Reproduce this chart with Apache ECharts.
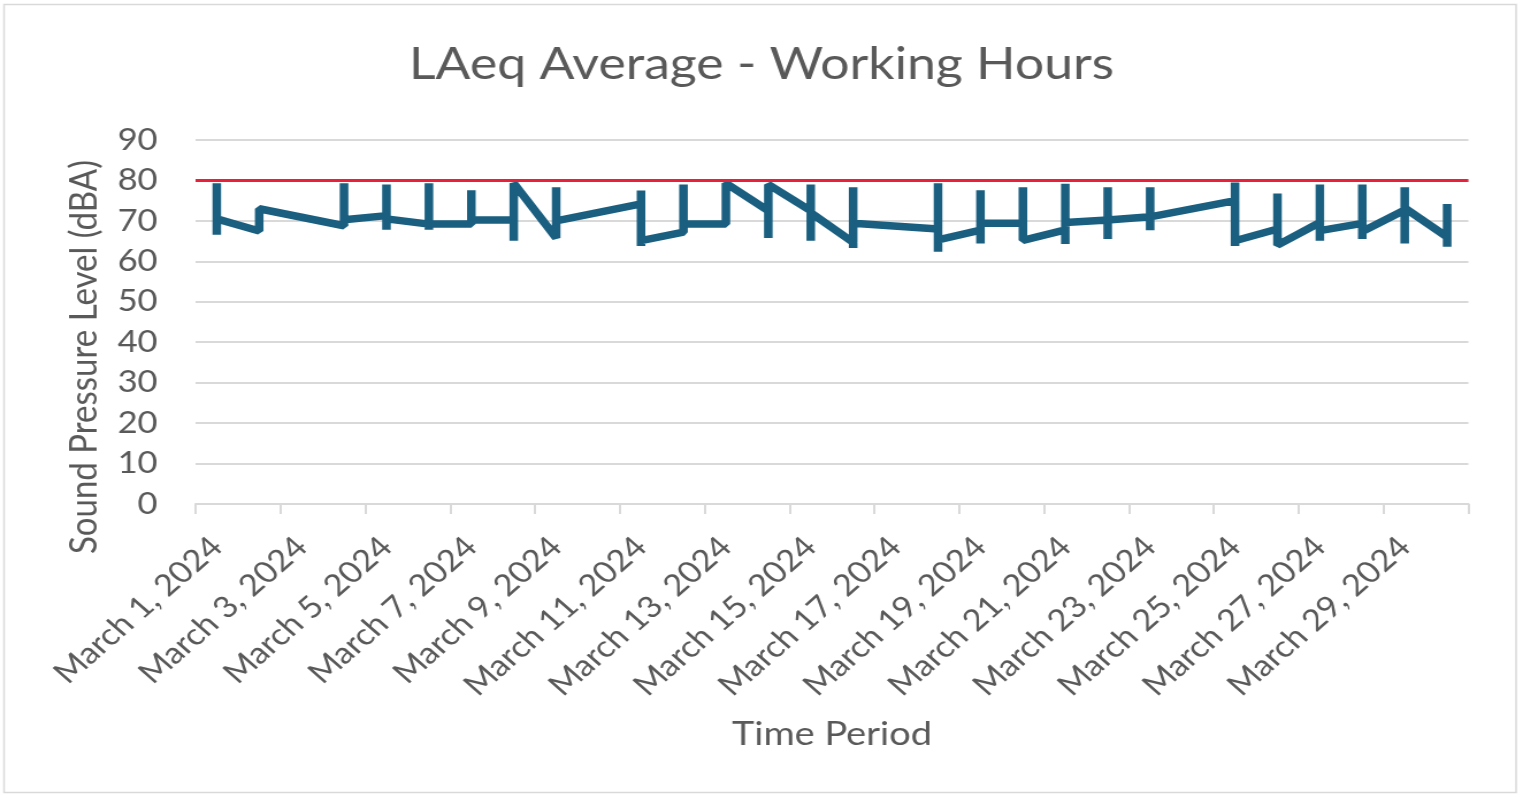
<!DOCTYPE html>
<html>
<head>
<meta charset="utf-8">
<script src="https://cdn.jsdelivr.net/npm/echarts@6/dist/echarts.min.js"></script>
<style>
  html, body { margin: 0; padding: 0; background: #ffffff; overflow: hidden; }
  #wrap { width: 1523px; height: 798px; overflow: hidden; }
  #chart { width: 1324px; height: 798px; transform: scaleX(1.1503); transform-origin: 0 0; }
</style>
</head>
<body>
<div id="wrap"><div id="chart"></div></div>
<script>
// ---- data ----
const dates = [
  'March 1, 2024', 'March 2, 2024', 'March 3, 2024', 'March 4, 2024', 'March 5, 2024',
  'March 6, 2024', 'March 7, 2024', 'March 8, 2024', 'March 9, 2024', 'March 10, 2024',
  'March 11, 2024', 'March 12, 2024', 'March 13, 2024', 'March 14, 2024', 'March 15, 2024',
  'March 16, 2024', 'March 17, 2024', 'March 18, 2024', 'March 19, 2024', 'March 20, 2024',
  'March 21, 2024', 'March 22, 2024', 'March 23, 2024', 'March 24, 2024', 'March 25, 2024',
  'March 26, 2024', 'March 27, 2024', 'March 28, 2024', 'March 29, 2024', 'March 30, 2024'
];
// LAeq readings per day, in recorded order (empty = no reading that day)
const readings = [
  [79.3, 66.6, 70.5],
  [67.5, 73.0],
  [],
  [68.8, 79.3, 70.3],
  [71.3, 79.0, 67.8, 70.5],
  [69.2, 79.3, 67.8, 69.2],
  [69.2, 77.6, 70.2],
  [70.2, 65.1, 79.3],
  [65.8, 78.3, 70.0],
  [],
  [74.2, 77.5, 63.8, 65.1],
  [67.2, 79.0, 69.2],
  [69.2, 79.3],
  [72.5, 65.8, 79.0],
  [72.5, 79.0, 65.1, 72.0],
  [64.7, 78.3, 63.3, 69.4],
  [],
  [68.0, 79.3, 62.4, 65.3],
  [67.7, 64.4, 77.6, 69.4],
  [69.4, 78.3, 65.2],
  [67.8, 79.2, 64.3, 69.6],
  [70.2, 78.3, 65.5, 70.2],
  [71.0, 78.3, 67.7, 71.0],
  [],
  [75.0, 79.5, 63.8, 65.1],
  [68.0, 76.8, 64.0],
  [69.6, 79.0, 65.1, 67.6],
  [69.4, 79.0, 65.5, 67.4],
  [72.7, 78.3, 64.4, 73.2],
  [66.0, 63.6, 74.2]
];
const limitLine = [80];
const yTicks = { min: 0, max: 90, step: 10 };

// ---- build ----
const seriesData = [];
readings.forEach(function (vals, i) {
  vals.forEach(function (v) { seriesData.push([i, v]); });
});

const chart = echarts.init(document.getElementById('chart'), null, { renderer: 'canvas' });
const txt = '#595959';
const gridCol = '#d9d9d9';
chart.setOption({
  animation: false,
  textStyle: { fontFamily: 'Lato' },
  title: {
    text: 'LAeq Average - Working Hours',
    left: 'center',
    top: 37,
    textStyle: { fontFamily: 'Lato', fontSize: 45, fontWeight: 'normal', color: txt }
  },
  graphic: [{
    type: 'rect',
    shape: { x: 3.5, y: 4.5, width: 1314.5, height: 788 },
    style: { fill: 'none', stroke: gridCol, lineWidth: 1.5 },
    silent: true,
    z: -1
  }],
  grid: { left: 170, right: 47.5, top: 140, bottom: 294, containLabel: false },
  xAxis: {
    type: 'category',
    data: dates,
    boundaryGap: true,
    axisLine: { show: true, lineStyle: { color: gridCol, width: 2 } },
    axisTick: { show: true, interval: 1, length: 10, lineStyle: { color: gridCol, width: 2 } },
    axisLabel: { interval: 1, rotate: 45, fontSize: 30, color: txt, margin: 38, fontFamily: 'Lato' },
    splitLine: { show: false },
    name: 'Time Period',
    nameLocation: 'middle',
    nameGap: 214,
    nameTextStyle: { fontSize: 33, color: txt, fontFamily: 'Lato' }
  },
  yAxis: {
    type: 'value',
    min: yTicks.min,
    max: yTicks.max,
    interval: yTicks.step,
    axisLine: { show: false },
    axisTick: { show: false },
    axisLabel: { fontSize: 30, color: txt, margin: 33, fontFamily: 'Lato' },
    splitLine: { show: true, lineStyle: { color: gridCol, width: 2 } },
    name: 'Sound Pressure Level (dBA)',
    nameLocation: 'middle',
    nameGap: 80,
    nameTextStyle: { fontSize: 33, color: txt, fontFamily: 'Lato', padding: [0, 70, 0, 0] }
  },
  series: [{
    type: 'line',
    data: seriesData,
    showSymbol: false,
    symbol: 'none',
    lineStyle: { color: '#1a5f80', width: 7.5, join: 'bevel', cap: 'butt' },
    itemStyle: { color: '#1a5f80' },
    markLine: {
      silent: true,
      symbol: ['none', 'none'],
      label: { show: false },
      lineStyle: { color: '#e8203a', width: 3, type: 'solid' },
      data: limitLine.map(function (v) { return { yAxis: v }; })
    }
  }]
});
</script>
</body>
</html>
